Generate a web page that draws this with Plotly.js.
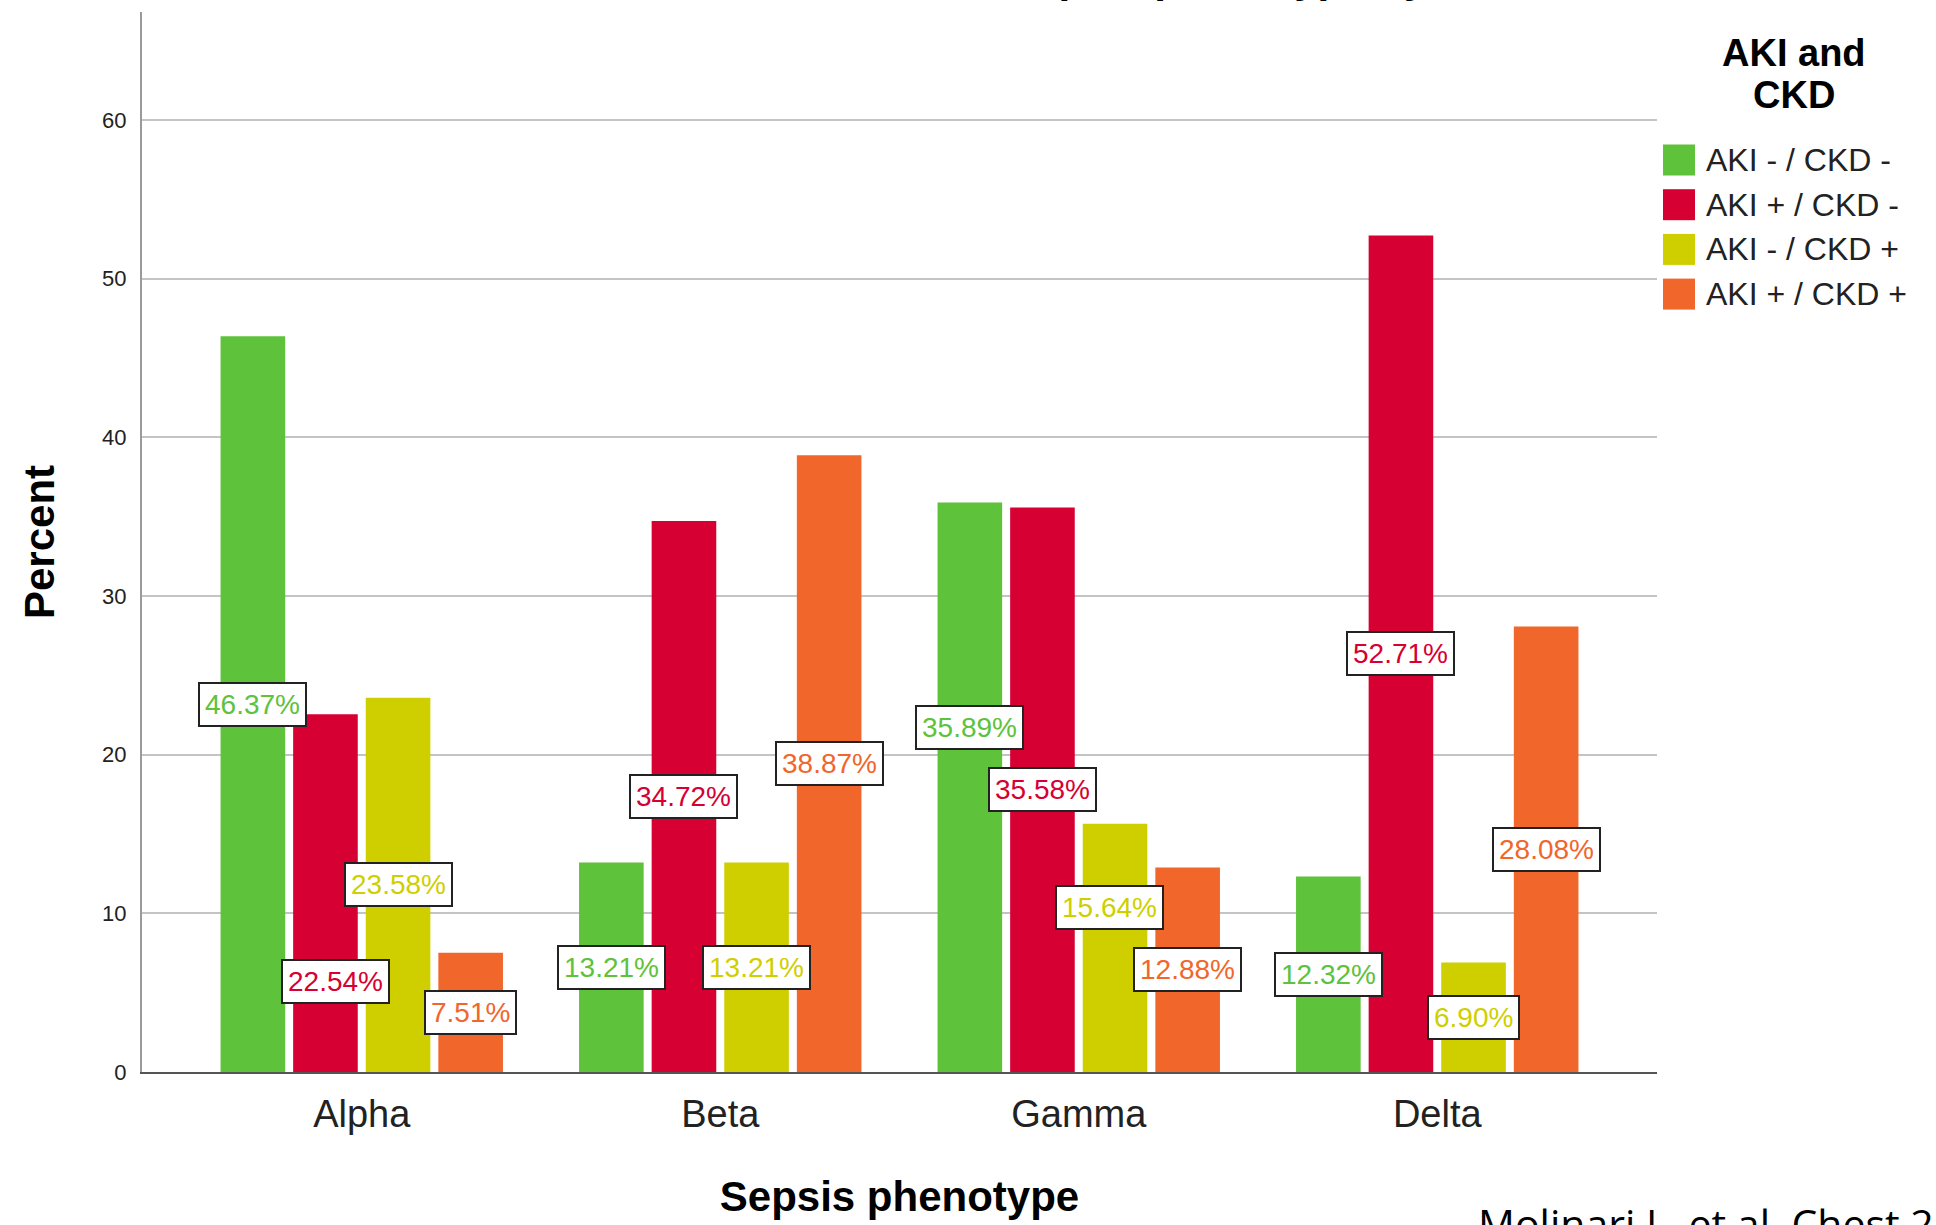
<!DOCTYPE html>
<html>
<head>
<meta charset="utf-8">
<script src="https://cdn.plot.ly/plotly-3.0.1.min.js"></script>
<style>
  html, body { margin: 0; padding: 0; background: #ffffff; }
  #chart { width: 1936px; height: 1225px; }
</style>
</head>
<body>
<div id="chart"></div>
<script>
// ---- data ----
const phenotypes = ['Alpha', 'Beta', 'Gamma', 'Delta'];
const groupNames = ['AKI - / CKD -', 'AKI + / CKD -', 'AKI - / CKD +', 'AKI + / CKD +'];
const groupColors = ['#5EC23A', '#D60032', '#CFCF00', '#F1662B'];
const akiNegCkdNeg = [46.37, 13.21, 35.89, 12.32];
const akiPosCkdNeg = [22.54, 34.72, 35.58, 52.71];
const akiNegCkdPos = [23.58, 13.21, 15.64, 6.90];
const akiPosCkdPos = [7.51, 38.87, 12.88, 28.08];
const yTicks = [0, 10, 20, 30, 40, 50, 60];
const chartTitle = 'Clustered Bar Percent of Sepsis phenotype by AKI and CKD';
const legendTitleLines = ['AKI and', 'CKD'];
const xTitle = 'Sepsis phenotype';
const yTitle = 'Percent';
const sourceNote = 'Molinari L, et al. Chest 2';

const seriesValues = [akiNegCkdNeg, akiPosCkdNeg, akiNegCkdPos, akiPosCkdPos];

// ---- geometry ----
const W = 1936, H = 1225;
const M = { l: 142, r: 279, t: 12, b: 153 };
const plotW = W - M.l - M.r;
const plotH = H - M.t - M.b;
const px2x = px => (px - M.l) / plotW;
const py2y = py => (H - M.b - py) / plotH;

const BARGAP = 0.19, BARGROUPGAP = 0.11;
const slot = (1 - BARGAP) / seriesValues.length;
const barOffset = i => (i - (seriesValues.length - 1) / 2) * slot;

const FONT = 'Liberation Sans, Arial, Helvetica, sans-serif';

// label boxes are drawn at half bar height; a few are moved so they do not collide
const labelNudge = {
  '0-1': { x: 10, y: -88 },
  '2-0': { x: 0, y: 60 },
  '2-2': { x: -6, y: 40 }
};

const traces = seriesValues.map((vals, i) => ({
  type: 'bar',
  name: groupNames[i],
  x: phenotypes,
  y: vals,
  marker: { color: groupColors[i], line: { width: 0 } },
  hoverinfo: 'skip',
  showlegend: false
}));

const annotations = [];
const shapes = [];

// value labels
seriesValues.forEach((vals, si) => {
  vals.forEach((v, ci) => {
    const n = labelNudge[ci + '-' + si] || { x: 0, y: 0 };
    annotations.push({
      xref: 'x', yref: 'y',
      x: ci + barOffset(si),
      y: v / 2,
      text: v.toFixed(2) + '%',
      showarrow: false,
      xanchor: 'center', yanchor: 'middle',
      xshift: n.x, yshift: n.y,
      font: { family: FONT, size: 28, color: groupColors[si] },
      bgcolor: '#ffffff',
      bordercolor: '#222222',
      borderwidth: 2,
      borderpad: 5
    });
  });
});

// chart title (sits at the very top edge)
annotations.push({
  xref: 'paper', yref: 'paper',
  x: px2x(501), y: 1,
  xanchor: 'left', yanchor: 'bottom',
  yshift: 9,
  text: '<b>' + chartTitle + '</b>',
  showarrow: false,
  font: { family: FONT, size: 42, color: '#000000' }
});

// legend title
legendTitleLines.forEach((line, i) => {
  annotations.push({
    xref: 'paper', yref: 'paper',
    x: px2x(1794), y: py2y(53 + i * 42),
    xanchor: 'center', yanchor: 'middle',
    text: '<b>' + line + '</b>',
    showarrow: false,
    font: { family: FONT, size: 38, color: '#000000' }
  });
});

// legend items
groupNames.forEach((name, i) => {
  const cy = 160 + i * 44.7;
  shapes.push({
    type: 'rect', xref: 'paper', yref: 'paper',
    x0: px2x(1663), x1: px2x(1695),
    y0: py2y(cy - 15.5), y1: py2y(cy + 15.5),
    fillcolor: groupColors[i], line: { width: 0 }
  });
  annotations.push({
    xref: 'paper', yref: 'paper',
    x: px2x(1704), y: py2y(cy),
    xanchor: 'left', yanchor: 'middle',
    text: name,
    showarrow: false,
    font: { family: FONT, size: 32, color: '#222222' }
  });
});

// source note, bottom right
annotations.push({
  xref: 'paper', yref: 'paper',
  x: px2x(1476), y: 0,
  xanchor: 'left', yanchor: 'top',
  yshift: -121,
  text: sourceNote,
  showarrow: false,
  font: { family: 'Open Sans, Noto Sans, sans-serif', size: 41, color: '#000000' }
});

const layout = {
  width: W, height: H,
  margin: M,
  paper_bgcolor: '#ffffff',
  plot_bgcolor: '#ffffff',
  showlegend: false,
  barmode: 'group',
  bargap: BARGAP,
  bargroupgap: BARGROUPGAP,
  font: { family: FONT, color: '#222222' },
  xaxis: {
    type: 'category',
    range: [-0.613, 3.613],
    showline: true, linecolor: '#555555', linewidth: 2,
    showgrid: false, zeroline: false,
    ticks: '',
    ticklabelstandoff: 7,
    tickfont: { family: FONT, size: 38, color: '#222222' },
    title: { text: '<b>' + xTitle + '</b>', font: { family: FONT, size: 42, color: '#000000' }, standoff: 48 },
    automargin: false,
    fixedrange: true
  },
  yaxis: {
    range: [0, 66.8],
    tickvals: yTicks,
    ticktext: yTicks.map(String),
    showline: true, linecolor: '#9a9a9a', linewidth: 2,
    showgrid: true, gridcolor: '#c4c4c4', gridwidth: 2,
    zeroline: false,
    ticks: '',
    ticklabelstandoff: 9,
    tickfont: { family: FONT, size: 22, color: '#222222' },
    title: { text: '<b>' + yTitle + '</b>', font: { family: FONT, size: 42, color: '#000000' }, standoff: 34 },
    automargin: false,
    fixedrange: true
  },
  annotations: annotations,
  shapes: shapes
};

Plotly.newPlot('chart', traces, layout, { staticPlot: true, displayModeBar: false });
</script>
</body>
</html>
